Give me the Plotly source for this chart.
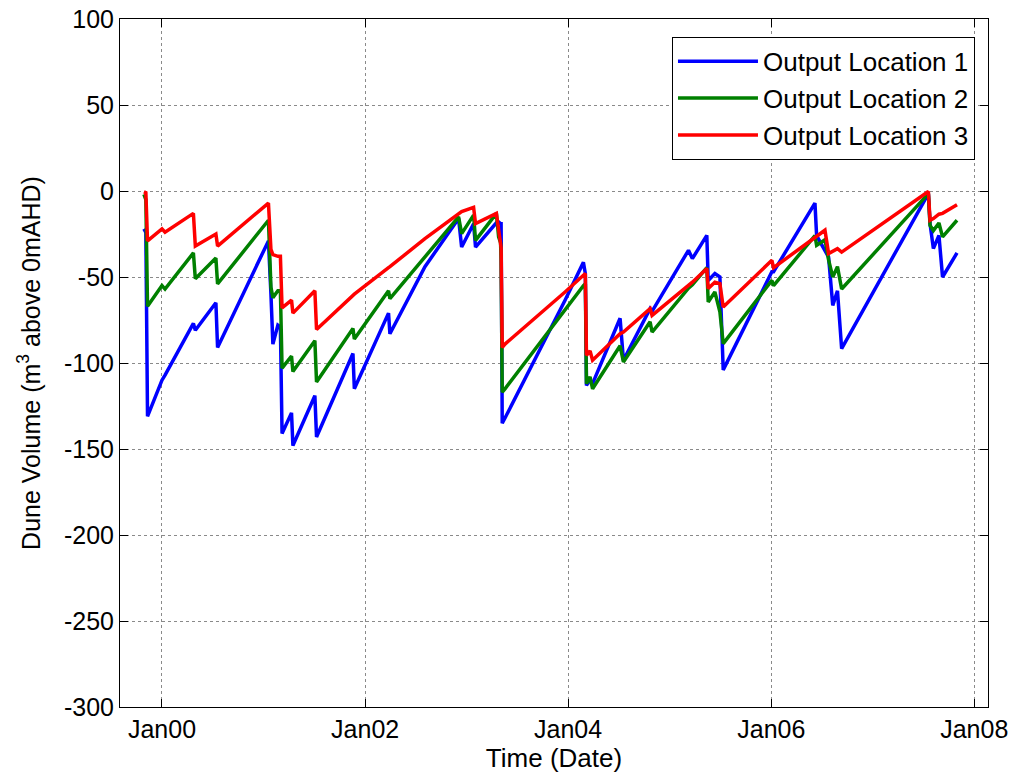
import plotly.graph_objects as go

dates = [
    "1999-10-28", "1999-11-04", "1999-11-10", "2000-01-01", "2000-01-12",
    "2000-04-23", "2000-04-30", "2000-07-13", "2000-07-19", "2001-01-18",
    "2001-01-27", "2001-02-03", "2001-02-21", "2001-03-02", "2001-03-08",
    "2001-04-11", "2001-04-16", "2001-07-04", "2001-07-10", "2001-11-18",
    "2001-11-23", "2002-03-26", "2002-03-31", "2002-08-04", "2002-12-03",
    "2002-12-14", "2003-01-26", "2003-02-02", "2003-04-18", "2003-04-26",
    "2003-05-03", "2003-05-05", "2003-05-09", "2003-05-19", "2003-12-21",
    "2004-02-25", "2004-03-03", "2004-03-07", "2004-03-20", "2004-03-29",
    "2004-07-06", "2004-07-18", "2004-10-22", "2004-10-29", "2005-03-09",
    "2005-03-23", "2005-05-14", "2005-05-19", "2005-06-12", "2005-06-30",
    "2005-07-12", "2006-01-03", "2006-01-09", "2006-06-07", "2006-06-13",
    "2006-07-13", "2006-07-26", "2006-08-10", "2006-08-27", "2006-09-11",
    "2007-07-20", "2007-07-26", "2007-08-07", "2007-08-27", "2007-09-09",
    "2007-10-31",
]

loc1 = [
    -22, -24, -131, -110, -107,
    -77, -81, -65, -91, -29,
    -60, -89, -78, -79, -141,
    -129, -148, -119, -143, -94.5,
    -115, -71, -83, -44, -16,
    -32.6, -19, -32.6, -18.5, -18,
    -19, -19, -135, -132, -63.5,
    -41.5, -48, -113, -110, -112,
    -74, -98.4, -68.4, -70, -34.5,
    -39.3, -25.8, -52, -48, -50,
    -104, -47, -47, -7, -26,
    -35, -38.4, -66.5, -58, -91.6,
    -1.5, -19, -33.5, -25.8, -50,
    -36,
]

loc2 = [
    -2, -5, -67, -55, -57,
    -36, -51, -39, -54, -17,
    -56, -62, -58, -58, -103,
    -96, -105, -87, -111, -80,
    -86, -58, -62.6, -38.4, -15,
    -24.8, -14, -28.7, -13, -26.7,
    -30, -40, -117, -115, -68.4,
    -55, -54, -112, -108, -115,
    -90, -99.4, -76, -82, -56.5,
    -54.5, -44.6, -64.5, -58.7, -70.3,
    -88.7, -52, -55, -26, -31.6,
    -28.3, -40, -50, -44, -57,
    -1.5, -20, -23, -18.6, -26.7,
    -17,
]

loc3 = [
    -0.5, -1, -29, -22, -24,
    -13, -32, -25, -32, -7,
    -34, -37, -38, -38, -68,
    -63.5, -71, -58, -80.5, -60.5,
    -60, -44.6, -44, -27.7, -13,
    -12, -9.5, -19, -13, -22,
    -28, -33, -91, -89, -58.7,
    -49, -48, -95.5, -93, -98.4,
    -83, -82, -68.4, -72.3, -55,
    -53, -45, -56.7, -53, -53.8,
    -67.4, -40.3, -44.6, -27, -26.5,
    -22.8, -36.4, -35, -33.5, -35.5,
    -0.3, -17, -16, -13.5, -13,
    -8,
]

series_names = ["Output Location 1", "Output Location 2", "Output Location 3"]
series_colors = ["#0000ff", "#008000", "#ff0000"]

y_tickvals = [100, 50, 0, -50, -100, -150, -200, -250, -300]
y_ticktext = ["100", "50", "0", "-50", "-100", "-150", "-200", "-250", "-300"]
x_tickvals = ["2000-01-01", "2002-01-01", "2004-01-01", "2006-01-01", "2008-01-01"]
x_ticktext = ["Jan00", "Jan02", "Jan04", "Jan06", "Jan08"]

font_family = "Liberation Sans, Arial, sans-serif"

fig = go.Figure()
for i, (name, vals, col) in enumerate(zip(series_names, [loc1, loc2, loc3], series_colors)):
    fig.add_trace(go.Scatter(
        x=dates, y=vals, mode="lines", name=name,
        line=dict(color=col, width=3.5),
        legendgroup=f"g{i}",
    ))

axis_common = dict(
    showline=True, linecolor="black", linewidth=1, mirror="ticks",
    ticks="inside", ticklen=8, tickcolor="black", tickwidth=1,
    showgrid=True, gridcolor="#8a8a8a", griddash="dot", gridwidth=1,
    zeroline=False, automargin=False,
    tickfont=dict(family=font_family, size=25, color="black"),
)

fig.update_layout(
    width=1011, height=778,
    margin=dict(l=120, r=23, t=19, b=71),
    paper_bgcolor="white", plot_bgcolor="white",
    font=dict(family=font_family, size=25, color="black"),
    xaxis=dict(
        type="date",
        range=["1999-08-03", "2008-02-19 12:00"],
        tickmode="array", tickvals=x_tickvals, ticktext=x_ticktext,
        title=dict(text="Time (Date)", font=dict(family=font_family, size=26), standoff=5),
        **axis_common,
    ),
    yaxis=dict(
        range=[-300, 100],
        tickmode="array", tickvals=y_tickvals, ticktext=y_ticktext,
        title=dict(text="Dune Volume (m<sup>3</sup> above 0mAHD)",
                   font=dict(family=font_family, size=25), standoff=16),
        **axis_common,
    ),
    legend=dict(
        x=0.985, y=0.974, xanchor="right", yanchor="top",
        bgcolor="white", bordercolor="black", borderwidth=1,
        font=dict(family=font_family, size=26, color="black"),
        tracegroupgap=0, itemwidth=80,
    ),
    showlegend=True,
)

fig.write_html("out.html")
